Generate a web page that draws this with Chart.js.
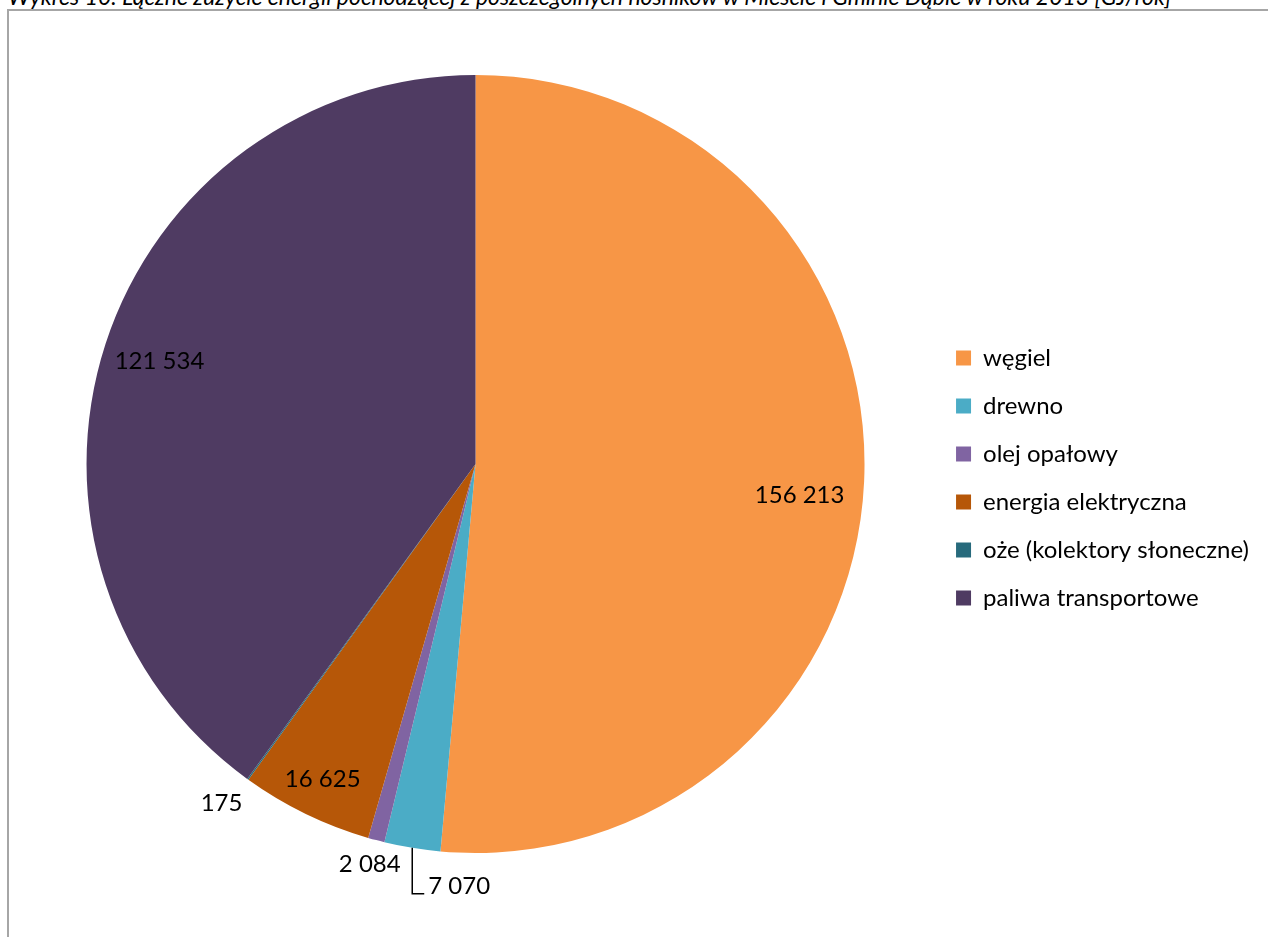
<!DOCTYPE html>
<html>
<head>
<meta charset="utf-8">
<script src="https://cdn.jsdelivr.net/npm/chart.js@4"></script>
<style>
  html, body { margin: 0; padding: 0; background: #fff; overflow: hidden; width: 1268px; height: 937px; }
  #title { position: absolute; left: 8px; top: -15px; font: italic 23px Lato, sans-serif; line-height: 23px; white-space: nowrap; color: #000; }
  #frame { position: absolute; left: 7px; top: 9px; width: 1300px; height: 940px; border-left: 2px solid #a6a6a6; border-top: 2px solid #a6a6a6; }
  #frame canvas { display: block; }
</style>
</head>
<body>
<div id="title">Wykres 10. Łączne zużycie energii pochodzącej z poszczególnych nośników w Mieście i Gminie Dąbie w roku 2013 [GJ/rok]</div>
<div id="frame"><canvas id="myChart" width="1250" height="926"></canvas></div>
<script>
const nosniki = ['węgiel', 'drewno', 'olej opałowy', 'energia elektryczna', 'oże (kolektory słoneczne)', 'paliwa transportowe'];
const zuzycie = [156213, 7070, 2084, 16625, 175, 121534];
const kolory = ['#F79646', '#4BACC6', '#8064A2', '#B65708', '#276A7C', '#4F3B62'];

// where each value label sits: fraction of radius, angle shift in degrees
const etykietyR = [0.837, 1.0, 1.065, 0.90, 1.089, 0.854];
const etykietyKat = [2.9, 0, 0, 0, 1.0, 0];

function formatuj(v) {
    return String(v).replace(/\B(?=(\d{3})+(?!\d))/g, ' ');
}

const etykiety = {
    id: 'etykiety',
    afterDatasetsDraw(chart) {
        const c = chart.ctx;
        const arcs = chart.getDatasetMeta(0).data;
        c.save();
        c.font = '24px Lato, sans-serif';
        c.fillStyle = '#000';
        c.textBaseline = 'middle';
        arcs.forEach((arc, i) => {
            const p = arc.getProps(['x', 'y', 'startAngle', 'endAngle', 'outerRadius'], true);
            const mid = (p.startAngle + p.endAngle) / 2 + etykietyKat[i] * Math.PI / 180;
            const txt = formatuj(zuzycie[i]);
            if (i === 1) {
                // label with leader line
                const ex = p.x + Math.cos(mid) * p.outerRadius;
                const ey = p.y + Math.sin(mid) * p.outerRadius;
                c.strokeStyle = '#000';
                c.lineWidth = 1.5;
                c.beginPath();
                c.moveTo(ex, ey);
                c.lineTo(ex, ey + 46);
                c.lineTo(ex + 12, ey + 46);
                c.stroke();
                c.textAlign = 'left';
                c.fillText(txt, ex + 16, ey + 38);
                return;
            }
            const r = p.outerRadius * etykietyR[i];
            c.textAlign = 'center';
            c.fillText(txt, p.x + Math.cos(mid) * r, p.y + Math.sin(mid) * r);
        });
        c.restore();
    }
};

const ctx = document.getElementById('myChart').getContext('2d');
const myChart = new Chart(ctx, {
    type: 'pie',
    data: {
        labels: nosniki,
        datasets: [{
            data: zuzycie,
            backgroundColor: kolory,
            borderWidth: 0
        }]
    },
    options: {
        responsive: false,
        animation: false,
        layout: {
            padding: { left: 10, right: 0, top: 64, bottom: 84 }
        },
        plugins: {
            legend: {
                position: 'right',
                // empty title only nudges the entries down a little
                title: { display: true, text: '', padding: 8, font: { size: 10 } },
                labels: {
                    boxWidth: 15,
                    boxHeight: 15,
                    padding: 24,
                    color: '#000',
                    font: { family: 'Lato, sans-serif', size: 24 }
                }
            },
            tooltip: { enabled: false }
        }
    },
    plugins: [etykiety]
});
</script>
</body>
</html>
